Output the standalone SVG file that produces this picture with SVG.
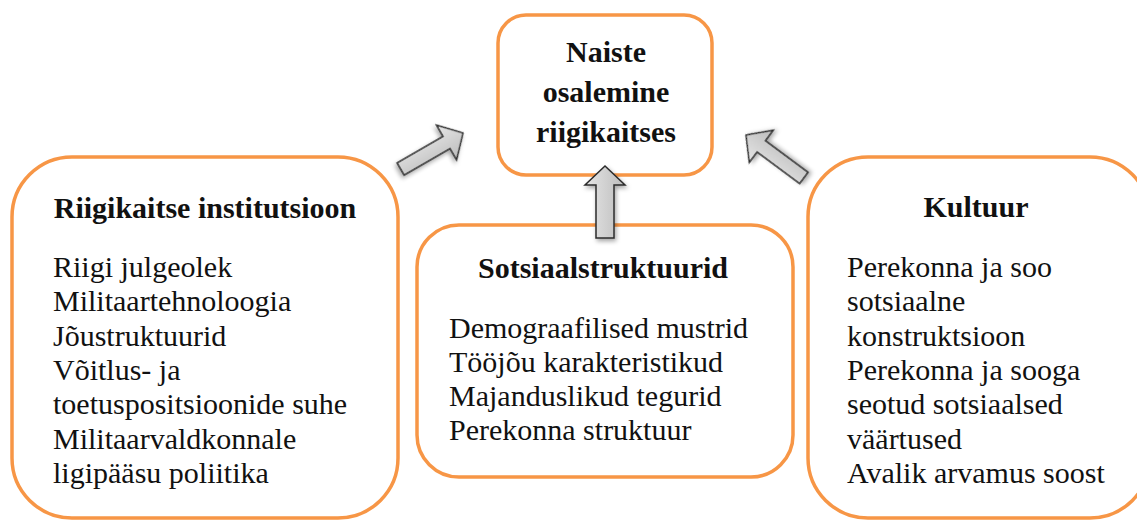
<svg xmlns="http://www.w3.org/2000/svg" width="1137" height="521" viewBox="0 0 1137 521">
  <defs>
    <style>
      .box { fill: #ffffff; stroke: #F79646; stroke-width: 3.5; }
      .t { font-family: "Liberation Serif", "Times New Roman", serif; font-size: 30px; fill: #111111; }
      .b { font-weight: bold; text-anchor: middle; }
      .arrow { fill: url(#grey); stroke: #2b2b2b; stroke-width: 1.5; stroke-linejoin: miter; filter: url(#shadow); }
    </style>
    <linearGradient id="grey" x1="0" y1="0" x2="1" y2="0">
      <stop offset="0" stop-color="#e6e6e6"/>
      <stop offset="1" stop-color="#bcbcbc"/>
    </linearGradient>
    <filter id="shadow" x="-50%" y="-50%" width="200%" height="200%">
      <feDropShadow dx="1.5" dy="2.5" stdDeviation="2" flood-color="#000000" flood-opacity="0.35"/>
    </filter>
  </defs>

  <g id="node-top">
    <rect class="box" x="498" y="15" width="214" height="160" rx="28" ry="28"/>
    <text class="t b" x="606" y="62">Naiste</text>
    <text class="t b" x="606" y="102">osalemine</text>
    <text class="t b" x="606" y="142">riigikaitses</text>
  </g>

  <g id="node-riigikaitse">
    <rect class="box" x="12" y="157" width="386" height="361" rx="60" ry="60"/>
    <text class="t b" x="205" y="218">Riigikaitse institutsioon</text>
    <text class="t" x="53" y="277">Riigi julgeolek</text>
    <text class="t" x="53" y="311.3">Militaartehnoloogia</text>
    <text class="t" x="53" y="345.6">Jõustruktuurid</text>
    <text class="t" x="53" y="379.9">Võitlus- ja</text>
    <text class="t" x="53" y="414.2">toetuspositsioonide suhe</text>
    <text class="t" x="53" y="448.5">Militaarvaldkonnale</text>
    <text class="t" x="53" y="482.8">ligipääsu poliitika</text>
  </g>

  <g id="node-sotsiaal">
    <rect class="box" x="417" y="225" width="376" height="252" rx="42" ry="42"/>
    <text class="t b" x="603" y="278">Sotsiaalstruktuurid</text>
    <text class="t" x="449" y="338">Demograafilised mustrid</text>
    <text class="t" x="449" y="372">Tööjõu karakteristikud</text>
    <text class="t" x="449" y="406">Majanduslikud tegurid</text>
    <text class="t" x="449" y="440">Perekonna struktuur</text>
  </g>

  <g id="node-kultuur">
    <rect class="box" x="808" y="157" width="342" height="361" rx="60" ry="60"/>
    <text class="t b" x="976" y="217">Kultuur</text>
    <text class="t" x="847" y="277">Perekonna ja soo</text>
    <text class="t" x="847" y="311.3">sotsiaalne</text>
    <text class="t" x="847" y="345.6">konstruktsioon</text>
    <text class="t" x="847" y="379.9">Perekonna ja sooga</text>
    <text class="t" x="847" y="414.2">seotud sotsiaalsed</text>
    <text class="t" x="847" y="448.5">väärtused</text>
    <text class="t" x="847" y="482.8">Avalik arvamus soost</text>
  </g>

  <g id="connectors">
    <path class="arrow" transform="translate(463,133) rotate(60)" d="M0,0 L20,19 L7,19 L7,72 L-7,72 L-7,19 L-20,19 Z"/>
    <path class="arrow" transform="translate(605,166)" d="M0,0 L20,19 L9,19 L9,72 L-9,72 L-9,19 L-20,19 Z"/>
    <path class="arrow" transform="translate(746,135) rotate(-53.4)" d="M0,0 L20,19 L7,19 L7,72 L-7,72 L-7,19 L-20,19 Z"/>
  </g>
</svg>
